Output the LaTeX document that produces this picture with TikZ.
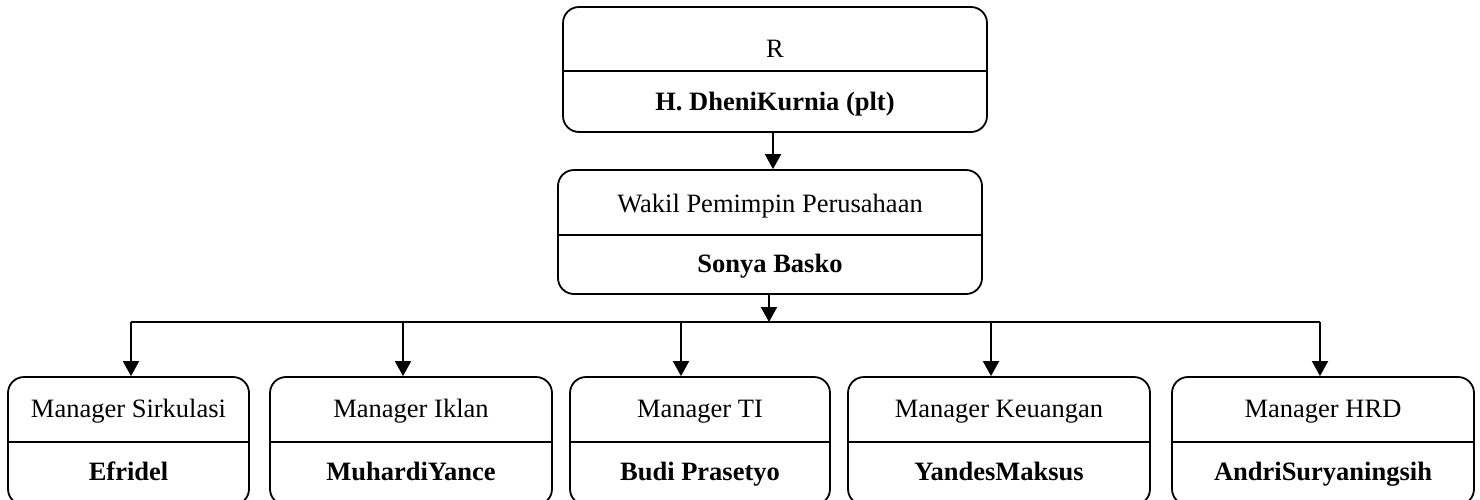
\documentclass[tikz,border=0pt]{standalone}
\usepackage{fontspec}
\setmainfont{Liberation Serif}
\usetikzlibrary{arrows.meta}
\begin{document}
\begin{tikzpicture}[x=1pt,y=-1pt,
  box/.style={draw, line width=1.8pt, rounded corners=16pt, inner sep=0pt},
  divline/.style={line width=1.8pt},
  lbl/.style={font=\fontsize{26.5}{30}\selectfont, inner sep=0pt, anchor=base},
  nm/.style={font=\fontsize{26.5}{30}\selectfont\bfseries, inner sep=0pt, anchor=base},
  conn/.style={line width=1.8pt},
  arr/.style={line width=1.8pt, -{Triangle[width=16pt,length=15pt]}}]
\useasboundingbox (0,0) rectangle (1480,499);

% top box
\node[box, minimum width=424pt, minimum height=125pt] (top) at (775,69.5) {};
\draw[divline] (top.west |- 0,71) -- (top.east |- 0,71);
\node[lbl] (topt) at (775,57) {R};
\node[nm] (topn) at (775,110) {H. DheniKurnia (plt)};

% middle box
\node[box, minimum width=424pt, minimum height=124pt] (mid) at (770,232) {};
\draw[divline] (mid.west |- 0,235) -- (mid.east |- 0,235);
\node[lbl] (midt) at (770,212) {Wakil Pemimpin Perusahaan};
\node[nm] (midn) at (770,272) {Sonya Basko};

% bottom boxes
\node[box, minimum width=241pt, minimum height=128pt] (m1) at (128.5,441) {};
\node[box, minimum width=282pt, minimum height=128pt] (m2) at (411,441) {};
\node[box, minimum width=260pt, minimum height=128pt] (m3) at (700,441) {};
\node[box, minimum width=302pt, minimum height=128pt] (m4) at (999,441) {};
\node[box, minimum width=302pt, minimum height=128pt] (m5) at (1323,441) {};
\foreach \b in {m1,m2,m3,m4,m5}{
  \draw[divline] (\b.west |- 0,442) -- (\b.east |- 0,442);
}
\node[lbl] (t1) at (128.5,417) {Manager Sirkulasi};
\node[lbl] (t2) at (411,417) {Manager Iklan};
\node[lbl] (t3) at (700,417) {Manager TI};
\node[lbl] (t4) at (999,417) {Manager Keuangan};
\node[lbl] (t5) at (1323,417) {Manager HRD};
\node[nm] (n1) at (128.5,480) {Efridel};
\node[nm] (n2) at (411,480) {MuhardiYance};
\node[nm] (n3) at (700,480) {Budi Prasetyo};
\node[nm] (n4) at (999,480) {YandesMaksus};
\node[nm] (n5) at (1323,480) {AndriSuryaningsih};

% connectors
\coordinate (c0) at (773,132);
\draw[arr] (c0) -- (c0 |- mid.north);
\coordinate (bus) at (769,322);
\draw[arr] (bus |- mid.south) -- (bus);
\coordinate (b1) at (131,322);
\coordinate (b2) at (403,322);
\coordinate (b3) at (681,322);
\coordinate (b4) at (991,322);
\coordinate (b5) at (1320,322);
\draw[conn] (b1) -- (b5);
\draw[arr] (b1) -- (b1 |- m1.north);
\draw[arr] (b2) -- (b2 |- m2.north);
\draw[arr] (b3) -- (b3 |- m3.north);
\draw[arr] (b4) -- (b4 |- m4.north);
\draw[arr] (b5) -- (b5 |- m5.north);
\end{tikzpicture}
\end{document}
